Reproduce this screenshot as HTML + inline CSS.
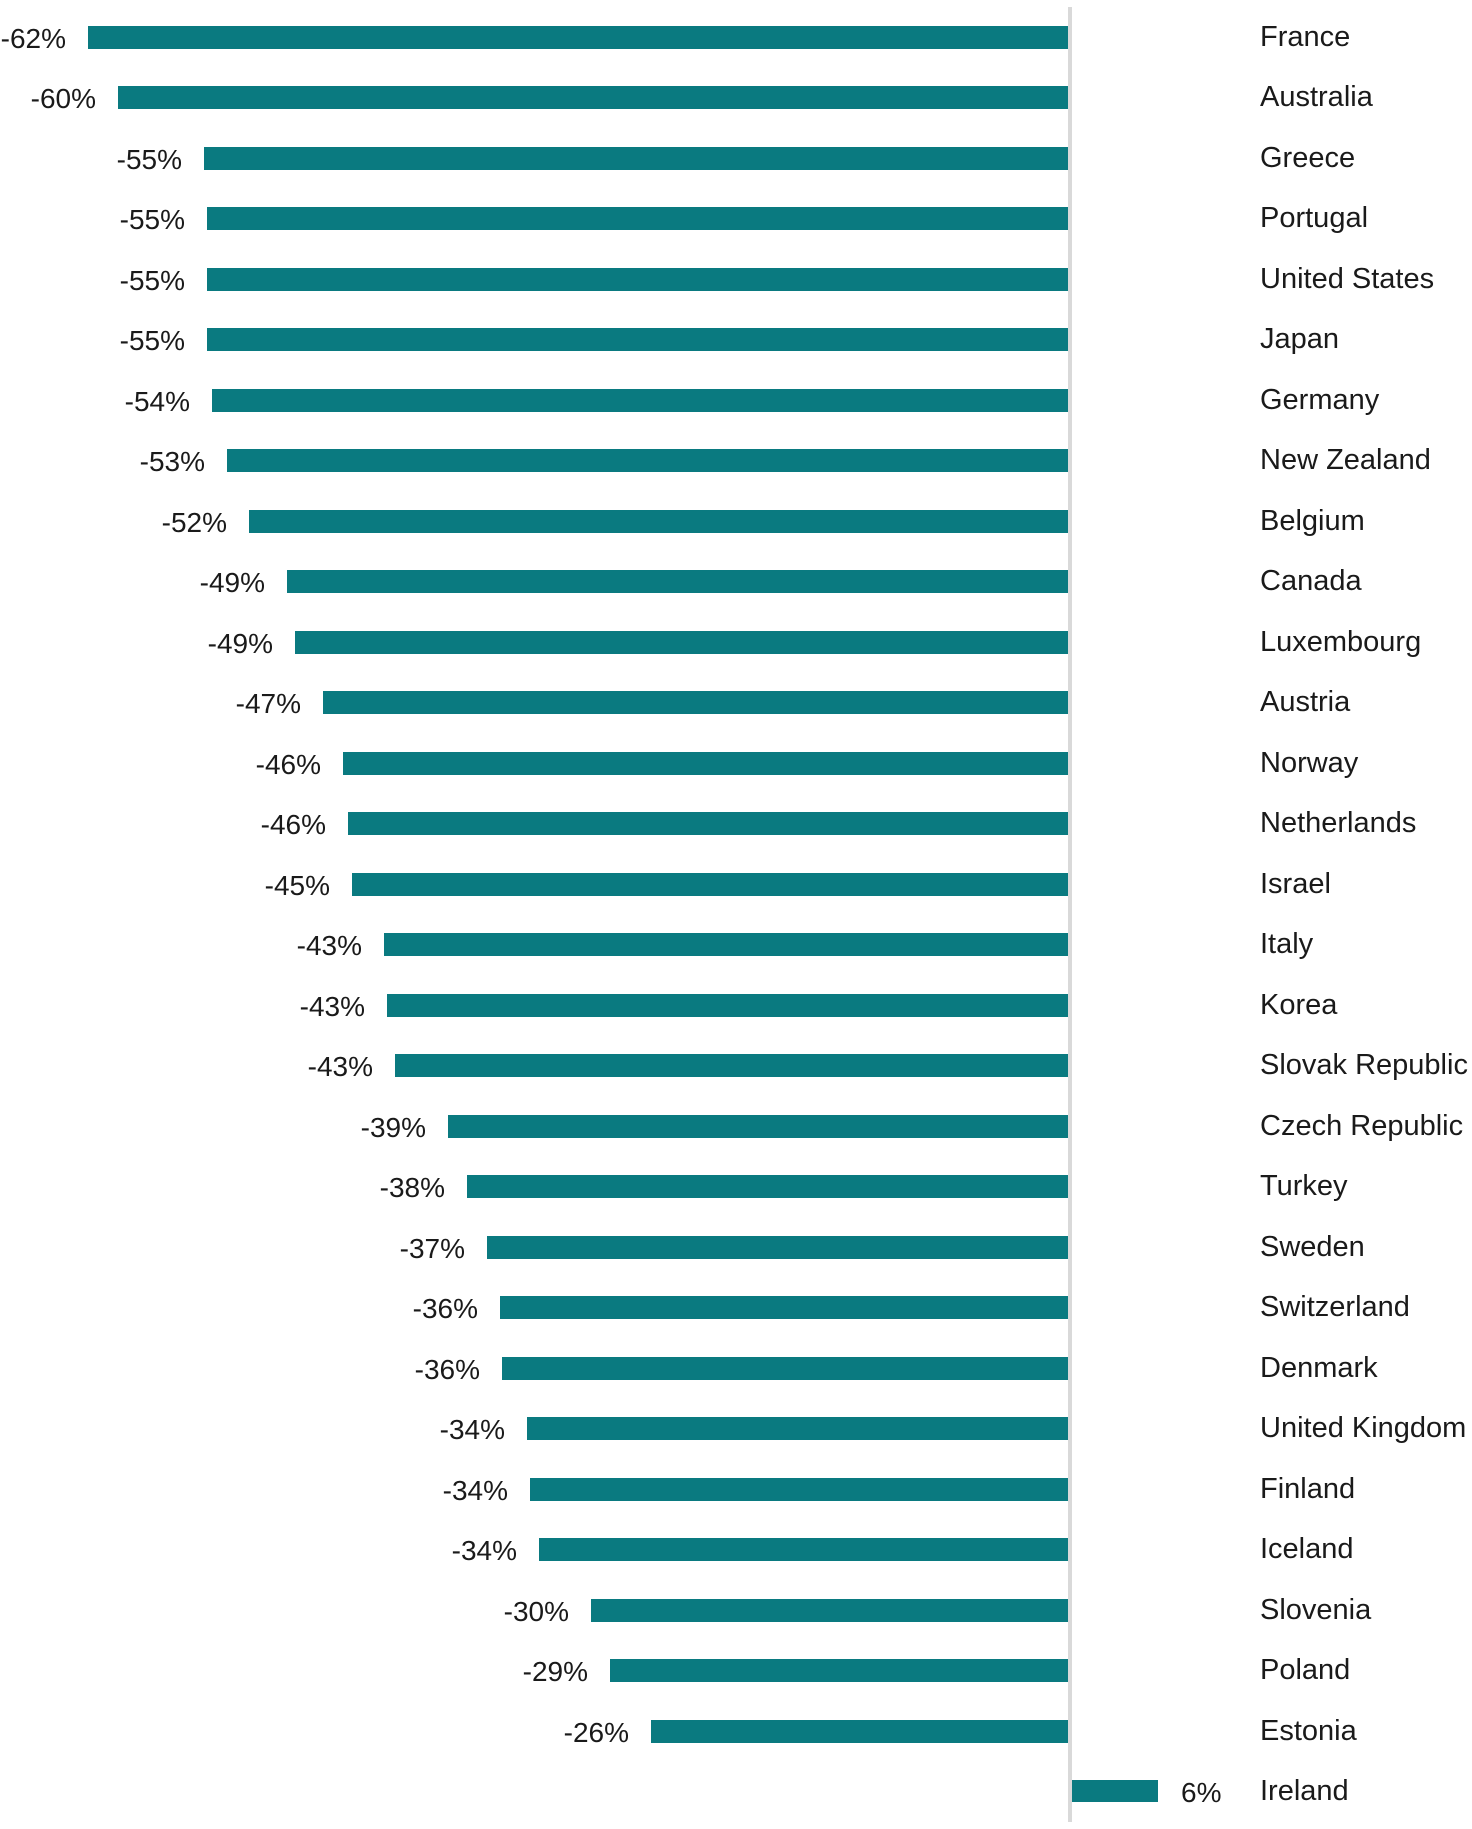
<!DOCTYPE html>
<html>
<head>
<meta charset="utf-8">
<style>
  html, body { margin: 0; padding: 0; background: #ffffff; }
  body { width: 1472px; height: 1829px; overflow: hidden; }
  svg { display: block; }
  .v { font-family: "Liberation Sans", sans-serif; font-size: 28px; fill: #1a1a1a; }
  .c { font-family: "Liberation Sans", sans-serif; font-size: 29px; fill: #1a1a1a; }
</style>
</head>
<body>
<svg width="1472" height="1829" viewBox="0 0 1472 1829" xmlns="http://www.w3.org/2000/svg">
  <rect x="0" y="0" width="1472" height="1829" fill="#ffffff"/>
  <rect x="1068" y="7" width="4" height="1815" fill="#d9d9d9"/>
  <g fill="#0a7a80">
    <rect x="88" y="26" width="980" height="23"/>
    <rect x="118" y="86" width="950" height="23"/>
    <rect x="204" y="147" width="864" height="23"/>
    <rect x="207" y="207" width="861" height="23"/>
    <rect x="207" y="268" width="861" height="23"/>
    <rect x="207" y="328" width="861" height="23"/>
    <rect x="212" y="389" width="856" height="23"/>
    <rect x="227" y="449" width="841" height="23"/>
    <rect x="249" y="510" width="819" height="23"/>
    <rect x="287" y="570" width="781" height="23"/>
    <rect x="295" y="631" width="773" height="23"/>
    <rect x="323" y="691" width="745" height="23"/>
    <rect x="343" y="752" width="725" height="23"/>
    <rect x="348" y="812" width="720" height="23"/>
    <rect x="352" y="873" width="716" height="23"/>
    <rect x="384" y="933" width="684" height="23"/>
    <rect x="387" y="994" width="681" height="23"/>
    <rect x="395" y="1054" width="673" height="23"/>
    <rect x="448" y="1115" width="620" height="23"/>
    <rect x="467" y="1175" width="601" height="23"/>
    <rect x="487" y="1236" width="581" height="23"/>
    <rect x="500" y="1296" width="568" height="23"/>
    <rect x="502" y="1357" width="566" height="23"/>
    <rect x="527" y="1417" width="541" height="23"/>
    <rect x="530" y="1478" width="538" height="23"/>
    <rect x="539" y="1538" width="529" height="23"/>
    <rect x="591" y="1599" width="477" height="23"/>
    <rect x="610" y="1659" width="458" height="23"/>
    <rect x="651" y="1720" width="417" height="23"/>
    <rect x="1072" y="1780" width="86" height="22"/>
  </g>
  <g class="v" text-anchor="end">
    <text x="66" y="48">-62%</text>
    <text x="96" y="108">-60%</text>
    <text x="182" y="169">-55%</text>
    <text x="185" y="229">-55%</text>
    <text x="185" y="290">-55%</text>
    <text x="185" y="350">-55%</text>
    <text x="190" y="411">-54%</text>
    <text x="205" y="471">-53%</text>
    <text x="227" y="532">-52%</text>
    <text x="265" y="592">-49%</text>
    <text x="273" y="653">-49%</text>
    <text x="301" y="713">-47%</text>
    <text x="321" y="774">-46%</text>
    <text x="326" y="834">-46%</text>
    <text x="330" y="895">-45%</text>
    <text x="362" y="955">-43%</text>
    <text x="365" y="1016">-43%</text>
    <text x="373" y="1076">-43%</text>
    <text x="426" y="1137">-39%</text>
    <text x="445" y="1197">-38%</text>
    <text x="465" y="1258">-37%</text>
    <text x="478" y="1318">-36%</text>
    <text x="480" y="1379">-36%</text>
    <text x="505" y="1439">-34%</text>
    <text x="508" y="1500">-34%</text>
    <text x="517" y="1560">-34%</text>
    <text x="569" y="1621">-30%</text>
    <text x="588" y="1681">-29%</text>
    <text x="629" y="1742">-26%</text>
  </g>
  <text class="v" x="1181" y="1802">6%</text>
  <g class="c">
    <text x="1260" y="46">France</text>
    <text x="1260" y="106">Australia</text>
    <text x="1260" y="167">Greece</text>
    <text x="1260" y="227">Portugal</text>
    <text x="1260" y="288">United States</text>
    <text x="1260" y="348">Japan</text>
    <text x="1260" y="409">Germany</text>
    <text x="1260" y="469">New Zealand</text>
    <text x="1260" y="530">Belgium</text>
    <text x="1260" y="590">Canada</text>
    <text x="1260" y="651">Luxembourg</text>
    <text x="1260" y="711">Austria</text>
    <text x="1260" y="772">Norway</text>
    <text x="1260" y="832">Netherlands</text>
    <text x="1260" y="893">Israel</text>
    <text x="1260" y="953">Italy</text>
    <text x="1260" y="1014">Korea</text>
    <text x="1260" y="1074">Slovak Republic</text>
    <text x="1260" y="1135">Czech Republic</text>
    <text x="1260" y="1195">Turkey</text>
    <text x="1260" y="1256">Sweden</text>
    <text x="1260" y="1316">Switzerland</text>
    <text x="1260" y="1377">Denmark</text>
    <text x="1260" y="1437">United Kingdom</text>
    <text x="1260" y="1498">Finland</text>
    <text x="1260" y="1558">Iceland</text>
    <text x="1260" y="1619">Slovenia</text>
    <text x="1260" y="1679">Poland</text>
    <text x="1260" y="1740">Estonia</text>
    <text x="1260" y="1800">Ireland</text>
  </g>
</svg>
</body>
</html>
